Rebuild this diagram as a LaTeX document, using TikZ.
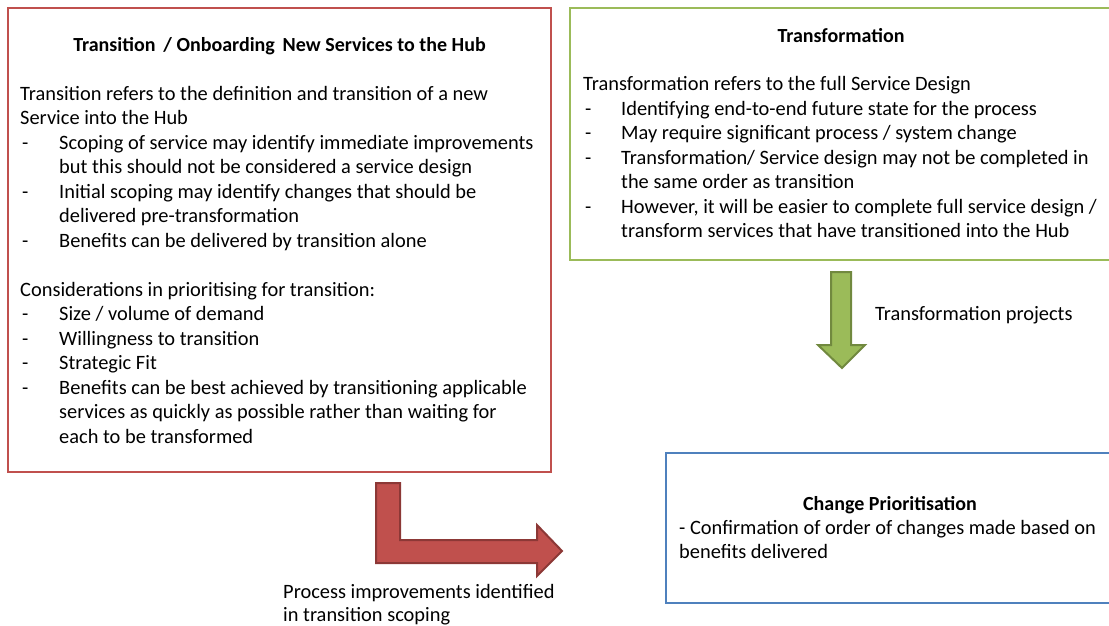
\documentclass[tikz,border=0pt]{standalone}
\usepackage{fontspec}
\setmainfont{Carlito}
\definecolor{redline}{HTML}{C0504D}
\definecolor{redfill}{HTML}{C0504D}
\definecolor{reddark}{HTML}{8C3836}
\definecolor{greenline}{HTML}{9BBB59}
\definecolor{greendark}{HTML}{71893F}
\definecolor{blueline}{HTML}{4F81BD}
\begin{document}
\begin{tikzpicture}[x=1pt,y=-1pt,
  txt/.style={anchor=base west,inner sep=0pt,font=\fontsize{20.4}{24.5}\selectfont},
  ttl/.style={anchor=base,inner sep=0pt,font=\fontsize{20}{24.5}\selectfont\bfseries},
  boxline/.style={line width=2.5pt},
  arrowshape/.style={line width=2pt,line join=miter}]
\useasboundingbox (0,0) rectangle (1109,625);
\begin{scope}
\clip (0,0) rectangle (1109,625);
% boxes
\draw[boxline,draw=redline] (8,8) rectangle (551,472);
\draw[boxline,draw=greenline] (570,8) rectangle (1113,260);
\draw[boxline,draw=blueline] (666,453) rectangle (1114,603);
\end{scope}

% red box text
\node[ttl] (t1) at (279.5,51) {Transition\, / Onboarding\, New Services to the Hub};
\node[txt] (r1) at (20,100) {Transition refers to the definition and transition of a new};
\node[txt] (r2) at (20,124.5) {Service into the Hub};
\node[txt] (r3d) at (22,149) {-};
\node[txt] (r3) at (59,149) {Scoping of service may identify immediate improvements};
\node[txt] (r4) at (59,173.5) {but this should not be considered a service design};
\node[txt] (r5d) at (22,198) {-};
\node[txt] (r5) at (59,198) {Initial scoping may identify changes that should be};
\node[txt] (r6) at (59,222.5) {delivered pre-transformation};
\node[txt] (r7d) at (22,247) {-};
\node[txt] (r7) at (59,247) {Benefits can be delivered by transition alone};
\node[txt] (r8) at (20,296) {Considerations in prioritising for transition:};
\node[txt] (r9d) at (22,320.5) {-};
\node[txt] (r9) at (59,320.5) {Size / volume of demand};
\node[txt] (r10d) at (22,345) {-};
\node[txt] (r10) at (59,345) {Willingness to transition};
\node[txt] (r11d) at (22,369.5) {-};
\node[txt] (r11) at (59,369.5) {Strategic Fit};
\node[txt] (r12d) at (22,394) {-};
\node[txt] (r12) at (59,394) {Benefits can be best achieved by transitioning applicable};
\node[txt] (r13) at (59,418.5) {services as quickly as possible rather than waiting for};
\node[txt] (r14) at (59,443) {each to be transformed};

% green box text
\node[ttl] (t2) at (841,42) {Transformation};
\node[txt] (g1) at (583,90.5) {Transformation refers to the full Service Design};
\node[txt] (g2d) at (585,115) {-};
\node[txt] (g2) at (621,115) {Identifying end-to-end future state for the process};
\node[txt] (g3d) at (585,139.5) {-};
\node[txt] (g3) at (621,139.5) {May require significant process / system change};
\node[txt] (g4d) at (585,164) {-};
\node[txt] (g4) at (621,164) {Transformation/ Service design may not be completed in};
\node[txt] (g5) at (621,188.5) {the same order as transition};
\node[txt] (g6d) at (585,213) {-};
\node[txt] (g6) at (621,213) {However, it will be easier to complete full service design /};
\node[txt] (g7) at (621,237.5) {transform services that have transitioned into the Hub};

% blue box text
\node[ttl] (t3) at (890,510) {Change Prioritisation};
\node[txt] (b1) at (679,534.5) {- Confirmation of order of changes made based on};
\node[txt] (b2) at (679,558.5) {benefits delivered};

% arrows
\draw[arrowshape,fill=redfill,draw=reddark] (376,483) -- (400,483) -- (400,540) -- (537,540) -- (537,525) -- (562,551) -- (537,576) -- (537,563) -- (376,563) -- cycle;
\draw[arrowshape,fill=greenline,draw=greendark] (831,272) -- (851,272) -- (851,345) -- (865,345) -- (842,368) -- (818,345) -- (831,345) -- cycle;

% arrow labels
\node[txt] (l1) at (875,320) {Transformation projects};
\node[txt] (l2) at (283,598) {Process improvements identified};
\node[txt] (l3) at (283,621.5) {in transition scoping};
\end{tikzpicture}
\end{document}
